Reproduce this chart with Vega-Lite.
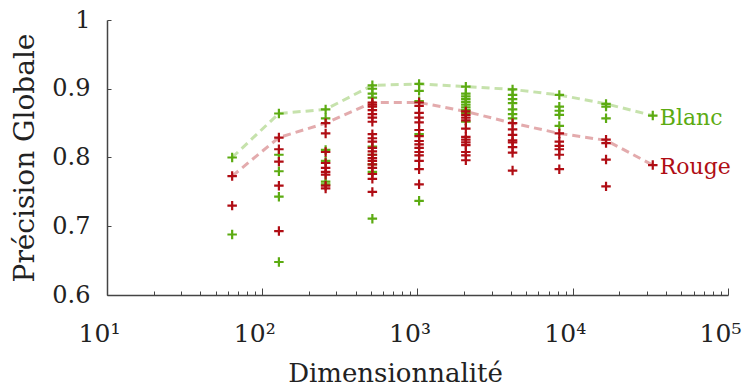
{
  "$schema": "https://vega.github.io/schema/vega-lite/v6.json",
  "width": 621,
  "height": 275,
  "autosize": {"type": "none"},
  "padding": {"left": 107, "top": 20, "right": 24, "bottom": 94},
  "background": "white",
  "config": {
    "view": {"stroke": null},
    "font": "DejaVu Serif",
    "axis": {"grid": false, "domainColor": "#444", "domainWidth": 1.5, "tickColor": "#444", "labelColor": "#222", "titleColor": "#222", "titleFontWeight": "normal", "labelFont": "DejaVu Serif", "titleFont": "DejaVu Serif"}
  },
  "datasets": {
    "pts": [
      {"d": 64, "acc": 0.800, "vin": "Blanc"}, {"d": 64, "acc": 0.688, "vin": "Blanc"},
      {"d": 128, "acc": 0.864, "vin": "Blanc"}, {"d": 128, "acc": 0.804, "vin": "Blanc"}, {"d": 128, "acc": 0.780, "vin": "Blanc"}, {"d": 128, "acc": 0.743, "vin": "Blanc"}, {"d": 128, "acc": 0.648, "vin": "Blanc"},
      {"d": 256, "acc": 0.870, "vin": "Blanc"}, {"d": 256, "acc": 0.857, "vin": "Blanc"}, {"d": 256, "acc": 0.811, "vin": "Blanc"}, {"d": 256, "acc": 0.795, "vin": "Blanc"}, {"d": 256, "acc": 0.765, "vin": "Blanc"}, {"d": 256, "acc": 0.761, "vin": "Blanc"},
      {"d": 512, "acc": 0.905, "vin": "Blanc"}, {"d": 512, "acc": 0.900, "vin": "Blanc"}, {"d": 512, "acc": 0.893, "vin": "Blanc"}, {"d": 512, "acc": 0.887, "vin": "Blanc"}, {"d": 512, "acc": 0.816, "vin": "Blanc"}, {"d": 512, "acc": 0.804, "vin": "Blanc"}, {"d": 512, "acc": 0.790, "vin": "Blanc"}, {"d": 512, "acc": 0.779, "vin": "Blanc"}, {"d": 512, "acc": 0.711, "vin": "Blanc"},
      {"d": 1024, "acc": 0.907, "vin": "Blanc"}, {"d": 1024, "acc": 0.897, "vin": "Blanc"}, {"d": 1024, "acc": 0.882, "vin": "Blanc"}, {"d": 1024, "acc": 0.834, "vin": "Blanc"}, {"d": 1024, "acc": 0.737, "vin": "Blanc"},
      {"d": 2048, "acc": 0.903, "vin": "Blanc"}, {"d": 2048, "acc": 0.893, "vin": "Blanc"}, {"d": 2048, "acc": 0.889, "vin": "Blanc"}, {"d": 2048, "acc": 0.885, "vin": "Blanc"}, {"d": 2048, "acc": 0.881, "vin": "Blanc"}, {"d": 2048, "acc": 0.877, "vin": "Blanc"}, {"d": 2048, "acc": 0.873, "vin": "Blanc"}, {"d": 2048, "acc": 0.869, "vin": "Blanc"}, {"d": 2048, "acc": 0.865, "vin": "Blanc"}, {"d": 2048, "acc": 0.852, "vin": "Blanc"},
      {"d": 4096, "acc": 0.899, "vin": "Blanc"}, {"d": 4096, "acc": 0.891, "vin": "Blanc"}, {"d": 4096, "acc": 0.885, "vin": "Blanc"}, {"d": 4096, "acc": 0.879, "vin": "Blanc"}, {"d": 4096, "acc": 0.870, "vin": "Blanc"}, {"d": 4096, "acc": 0.863, "vin": "Blanc"}, {"d": 4096, "acc": 0.857, "vin": "Blanc"},
      {"d": 8192, "acc": 0.891, "vin": "Blanc"}, {"d": 8192, "acc": 0.874, "vin": "Blanc"}, {"d": 8192, "acc": 0.868, "vin": "Blanc"}, {"d": 8192, "acc": 0.862, "vin": "Blanc"}, {"d": 8192, "acc": 0.846, "vin": "Blanc"},
      {"d": 16384, "acc": 0.878, "vin": "Blanc"}, {"d": 16384, "acc": 0.874, "vin": "Blanc"}, {"d": 16384, "acc": 0.857, "vin": "Blanc"},
      {"d": 32768, "acc": 0.861, "vin": "Blanc"},
      {"d": 64, "acc": 0.773, "vin": "Rouge"}, {"d": 64, "acc": 0.730, "vin": "Rouge"},
      {"d": 128, "acc": 0.829, "vin": "Rouge"}, {"d": 128, "acc": 0.812, "vin": "Rouge"}, {"d": 128, "acc": 0.794, "vin": "Rouge"}, {"d": 128, "acc": 0.759, "vin": "Rouge"}, {"d": 128, "acc": 0.693, "vin": "Rouge"},
      {"d": 256, "acc": 0.850, "vin": "Rouge"}, {"d": 256, "acc": 0.835, "vin": "Rouge"}, {"d": 256, "acc": 0.808, "vin": "Rouge"}, {"d": 256, "acc": 0.792, "vin": "Rouge"}, {"d": 256, "acc": 0.785, "vin": "Rouge"}, {"d": 256, "acc": 0.779, "vin": "Rouge"}, {"d": 256, "acc": 0.775, "vin": "Rouge"}, {"d": 256, "acc": 0.759, "vin": "Rouge"}, {"d": 256, "acc": 0.755, "vin": "Rouge"},
      {"d": 512, "acc": 0.880, "vin": "Rouge"}, {"d": 512, "acc": 0.877, "vin": "Rouge"}, {"d": 512, "acc": 0.874, "vin": "Rouge"}, {"d": 512, "acc": 0.869, "vin": "Rouge"}, {"d": 512, "acc": 0.863, "vin": "Rouge"}, {"d": 512, "acc": 0.858, "vin": "Rouge"}, {"d": 512, "acc": 0.852, "vin": "Rouge"}, {"d": 512, "acc": 0.834, "vin": "Rouge"}, {"d": 512, "acc": 0.828, "vin": "Rouge"}, {"d": 512, "acc": 0.823, "vin": "Rouge"}, {"d": 512, "acc": 0.814, "vin": "Rouge"}, {"d": 512, "acc": 0.809, "vin": "Rouge"}, {"d": 512, "acc": 0.804, "vin": "Rouge"}, {"d": 512, "acc": 0.799, "vin": "Rouge"}, {"d": 512, "acc": 0.795, "vin": "Rouge"}, {"d": 512, "acc": 0.790, "vin": "Rouge"}, {"d": 512, "acc": 0.785, "vin": "Rouge"}, {"d": 512, "acc": 0.776, "vin": "Rouge"}, {"d": 512, "acc": 0.769, "vin": "Rouge"}, {"d": 512, "acc": 0.750, "vin": "Rouge"},
      {"d": 1024, "acc": 0.880, "vin": "Rouge"}, {"d": 1024, "acc": 0.875, "vin": "Rouge"}, {"d": 1024, "acc": 0.865, "vin": "Rouge"}, {"d": 1024, "acc": 0.858, "vin": "Rouge"}, {"d": 1024, "acc": 0.851, "vin": "Rouge"}, {"d": 1024, "acc": 0.840, "vin": "Rouge"}, {"d": 1024, "acc": 0.831, "vin": "Rouge"}, {"d": 1024, "acc": 0.824, "vin": "Rouge"}, {"d": 1024, "acc": 0.819, "vin": "Rouge"}, {"d": 1024, "acc": 0.814, "vin": "Rouge"}, {"d": 1024, "acc": 0.808, "vin": "Rouge"}, {"d": 1024, "acc": 0.803, "vin": "Rouge"}, {"d": 1024, "acc": 0.795, "vin": "Rouge"}, {"d": 1024, "acc": 0.783, "vin": "Rouge"}, {"d": 1024, "acc": 0.761, "vin": "Rouge"},
      {"d": 2048, "acc": 0.867, "vin": "Rouge"}, {"d": 2048, "acc": 0.862, "vin": "Rouge"}, {"d": 2048, "acc": 0.858, "vin": "Rouge"}, {"d": 2048, "acc": 0.854, "vin": "Rouge"}, {"d": 2048, "acc": 0.842, "vin": "Rouge"}, {"d": 2048, "acc": 0.830, "vin": "Rouge"}, {"d": 2048, "acc": 0.826, "vin": "Rouge"}, {"d": 2048, "acc": 0.822, "vin": "Rouge"}, {"d": 2048, "acc": 0.818, "vin": "Rouge"}, {"d": 2048, "acc": 0.808, "vin": "Rouge"}, {"d": 2048, "acc": 0.803, "vin": "Rouge"}, {"d": 2048, "acc": 0.796, "vin": "Rouge"},
      {"d": 4096, "acc": 0.850, "vin": "Rouge"}, {"d": 4096, "acc": 0.841, "vin": "Rouge"}, {"d": 4096, "acc": 0.833, "vin": "Rouge"}, {"d": 4096, "acc": 0.825, "vin": "Rouge"}, {"d": 4096, "acc": 0.822, "vin": "Rouge"}, {"d": 4096, "acc": 0.815, "vin": "Rouge"}, {"d": 4096, "acc": 0.807, "vin": "Rouge"}, {"d": 4096, "acc": 0.781, "vin": "Rouge"},
      {"d": 8192, "acc": 0.835, "vin": "Rouge"}, {"d": 8192, "acc": 0.823, "vin": "Rouge"}, {"d": 8192, "acc": 0.817, "vin": "Rouge"}, {"d": 8192, "acc": 0.812, "vin": "Rouge"}, {"d": 8192, "acc": 0.804, "vin": "Rouge"}, {"d": 8192, "acc": 0.783, "vin": "Rouge"},
      {"d": 16384, "acc": 0.826, "vin": "Rouge"}, {"d": 16384, "acc": 0.821, "vin": "Rouge"}, {"d": 16384, "acc": 0.797, "vin": "Rouge"}, {"d": 16384, "acc": 0.758, "vin": "Rouge"},
      {"d": 32768, "acc": 0.789, "vin": "Rouge"}
    ],
    "lines": [
      {"d": 64, "acc": 0.800, "vin": "Blanc"}, {"d": 128, "acc": 0.864, "vin": "Blanc"}, {"d": 256, "acc": 0.870, "vin": "Blanc"}, {"d": 512, "acc": 0.905, "vin": "Blanc"}, {"d": 1024, "acc": 0.907, "vin": "Blanc"}, {"d": 2048, "acc": 0.903, "vin": "Blanc"}, {"d": 4096, "acc": 0.899, "vin": "Blanc"}, {"d": 8192, "acc": 0.891, "vin": "Blanc"}, {"d": 16384, "acc": 0.878, "vin": "Blanc"}, {"d": 32768, "acc": 0.861, "vin": "Blanc"},
      {"d": 64, "acc": 0.773, "vin": "Rouge"}, {"d": 128, "acc": 0.829, "vin": "Rouge"}, {"d": 256, "acc": 0.850, "vin": "Rouge"}, {"d": 512, "acc": 0.880, "vin": "Rouge"}, {"d": 1024, "acc": 0.880, "vin": "Rouge"}, {"d": 2048, "acc": 0.867, "vin": "Rouge"}, {"d": 4096, "acc": 0.850, "vin": "Rouge"}, {"d": 8192, "acc": 0.835, "vin": "Rouge"}, {"d": 16384, "acc": 0.825, "vin": "Rouge"}, {"d": 32768, "acc": 0.789, "vin": "Rouge"}
    ]
  },
  "resolve": {"axis": {"x": "independent"}},
  "layer": [
    {
      "data": {"name": "lines"},
      "mark": {"type": "line", "strokeDash": [8, 5], "strokeWidth": 3, "opacity": 0.35},
      "encoding": {
        "x": {"field": "d", "type": "quantitative", "scale": {"type": "log", "domain": [10, 100000], "nice": false}, "axis": null},
        "y": {"field": "acc", "type": "quantitative", "scale": {"domain": [0.6, 1], "nice": false, "zero": false},
          "axis": {"values": [0.6, 0.7, 0.8, 0.9, 1], "format": ".1~f", "tickSize": -4, "labelPadding": 21, "labelFontSize": 24, "title": "Précision Globale", "titleFontSize": 28, "titleAngle": -90, "titleX": -74, "titleY": 137.5, "titleAlign": "center", "titleBaseline": "alphabetic"}},
        "color": {"field": "vin", "type": "nominal", "scale": {"domain": ["Blanc", "Rouge"], "range": ["#5cab12", "#b00d14"]}, "legend": null},
        "detail": {"field": "vin"}
      }
    },
    {
      "data": {"name": "pts"},
      "mark": {"type": "point", "shape": "M-1,0H1M0,-1V1", "filled": false, "size": 90, "strokeWidth": 2.2, "opacity": 1},
      "encoding": {
        "x": {"field": "d", "type": "quantitative", "scale": {"type": "log", "domain": [10, 100000], "nice": false},
          "axis": {"orient": "bottom", "values": [10, 100, 1000, 10000, 100000], "tickSize": -7, "labelPadding": 33, "labelFontSize": 25, "labelOffset": -8, "labelFlush": false,
            "labelExpr": "'10' + (datum.value == 10 ? '¹' : datum.value == 100 ? '²' : datum.value == 1000 ? '³' : datum.value == 10000 ? '⁴' : '⁵')",
            "title": "Dimensionnalité", "titleFontSize": 26, "titleX": 288, "titleY": 86, "titleAlign": "center", "titleBaseline": "alphabetic"}},
        "y": {"field": "acc", "type": "quantitative"},
        "color": {"field": "vin", "type": "nominal"}
      }
    },
    {
      "data": {"name": "lines"},
      "transform": [{"filter": "datum.d == 32768"}],
      "mark": {"type": "text", "align": "left", "baseline": "middle", "dx": 7, "dy": 2, "fontSize": 22, "font": "DejaVu Serif"},
      "encoding": {
        "x": {"field": "d", "type": "quantitative", "scale": {"type": "log", "domain": [10, 100000], "nice": false},
          "axis": {"orient": "bottom", "values": [20, 30, 40, 50, 60, 70, 80, 90, 200, 300, 400, 500, 600, 700, 800, 900, 2000, 3000, 4000, 5000, 6000, 7000, 8000, 9000, 20000, 30000, 40000, 50000, 60000, 70000, 80000, 90000], "tickSize": -4, "labels": false, "domain": false, "title": null}},
        "y": {"field": "acc", "type": "quantitative"},
        "text": {"field": "vin"},
        "color": {"field": "vin", "type": "nominal"}
      }
    }
  ]
}
